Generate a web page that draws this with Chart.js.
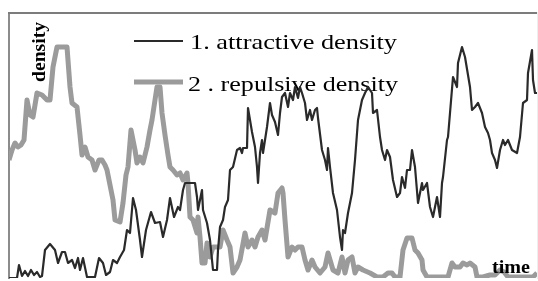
<!DOCTYPE html>
<html>
<head>
<meta charset="utf-8">
<script src="https://cdn.jsdelivr.net/npm/chart.js@4.4.1/dist/chart.umd.min.js"></script>
<style>
  html, body { margin: 0; padding: 0; background: #fff; }
</style>
</head>
<body>
<canvas id="chart" width="538" height="281"></canvas>
<script>
// ── Data (time steps, density level) ────────────────────────────────────
const attractiveTime = [0,4,8,10,13,16,19,22,25,28,31,33,36,41,46,49,53,56,59,63,66,69,71,74,78,82,86,90,94,97,101,104,108,111,115,118,121,124,127,131,133,137,142,146,151,154,158,161,165,169,171,174,176,181,186,188,189,193,194,198,201,204,208,209,211,214,216,219,221,224,228,231,233,234,238,239,243,246,248,249,251,253,254,258,261,263,266,269,271,273,276,279,281,284,286,289,291,293,296,298,301,303,306,308,309,313,316,318,319,321,324,328,331,333,334,336,339,343,346,349,353,356,359,363,364,368,371,373,376,378,381,384,388,391,393,396,398,401,403,406,409,413,414,418,421,424,426,428,431,433,434,438,439,444,448,449,453,456,461,463,466,469,473,476,479,481,483,486,488,491,494,496,499,503,508,511,514,518,519,523,524,526,528];
const attractiveDensity = [0,0,0,13,2,7,2,8,3,6,1,2,28,34,28,15,26,26,15,18,10,20,8,20,1,1,1,20,15,3,6,18,15,21,28,48,45,80,68,38,21,48,66,55,56,41,58,80,61,71,68,88,95,95,95,81,68,88,68,55,38,8,8,28,51,58,71,78,108,111,128,130,125,130,130,170,146,131,111,95,125,138,125,151,175,163,156,143,165,181,185,171,185,178,191,180,191,185,175,158,168,158,168,170,160,128,118,108,130,111,85,68,41,28,48,45,65,85,118,158,178,185,191,185,165,168,141,128,118,128,121,98,81,85,101,90,108,108,128,111,75,95,88,95,71,61,71,81,61,95,101,138,141,201,191,215,231,221,191,168,171,175,165,151,145,138,125,118,110,128,138,133,138,128,125,141,175,178,205,228,198,185,185];

const repulsiveTime = [0,3,6,9,12,15,18,21,24,28,33,38,41,44,48,53,58,61,63,68,71,73,76,79,83,86,90,93,96,98,101,104,106,111,114,117,119,122,124,126,128,131,134,138,141,143,146,148,151,153,156,159,161,164,168,171,174,178,179,181,184,188,189,191,193,196,198,201,204,208,211,214,218,221,224,228,231,236,239,243,246,249,253,256,261,266,269,273,274,276,279,283,286,289,293,296,299,303,306,311,316,319,324,329,333,336,339,343,346,349,354,361,368,374,379,383,386,391,394,398,403,406,409,413,414,418,431,439,443,446,451,454,458,461,466,468,474,481,486,491,495,499,506,511,516,521,524,528];
const repulsiveDensity = [118,128,135,131,133,138,178,163,161,185,183,178,178,211,231,231,231,191,175,171,143,123,131,121,118,108,118,118,113,108,93,78,58,56,75,103,111,148,138,128,115,121,115,131,148,158,178,191,191,165,143,123,111,108,103,105,98,105,95,61,58,45,61,41,15,15,35,21,31,31,31,48,38,31,5,11,18,45,31,38,31,41,48,38,68,65,85,90,85,58,21,31,28,31,31,18,8,18,11,5,11,25,8,5,21,5,18,21,5,11,8,5,1,1,5,5,1,1,28,40,40,28,25,18,8,1,1,1,15,11,11,15,13,15,11,1,1,3,3,8,6,1,1,1,1,1,1,5];

const seriesLabels = ['1. attractive density', '2 . repulsive density'];
const xTitle = 'time';
const yTitle = 'density';

const toPoints = (xs, ys) => xs.map((x, i) => ({ x: x, y: ys[i] }));

const SERIF = '"Liberation Serif", "Times New Roman", Times, serif';

// draw text squeezed/stretched to a given width (the original is a bit widened)
function fitText(ctx, text, x, y, width) {
  const w = ctx.measureText(text).width;
  ctx.save();
  ctx.translate(x, y);
  ctx.scale(width / w, 1);
  ctx.fillText(text, 0, 0);
  ctx.restore();
}

// ── Frame: grey top/left rule, faint right rule ─────────────────────────
const framePlugin = {
  id: 'frame',
  beforeDraw(chart) {
    const { ctx, chartArea: a } = chart;
    ctx.save();
    ctx.fillStyle = '#ffffff';
    ctx.fillRect(0, 0, chart.width, chart.height);
    ctx.fillStyle = '#eeeeee';
    ctx.fillRect(a.right, a.top, 1, a.bottom - a.top + 1);
    ctx.fillStyle = '#8c8c8c';
    ctx.fillRect(a.left - 1, a.top, 2, a.bottom - a.top + 1);
    ctx.fillStyle = '#7c7c7c';
    ctx.fillRect(a.left - 1, a.top, a.right - a.left + 1, 2);
    ctx.restore();
  }
};

// ── Legend sits under the lines (the data crosses its text) ────────────
const legendPlugin = {
  id: 'inlineLegend',
  beforeDatasetsDraw(chart) {
    const { ctx, chartArea: a } = chart;
    const rows = [
      { y: 41, x: 181, base: 49, w: 207 },
      { y: 82, x: 179, base: 91, w: 210 }
    ];
    ctx.save();
    ctx.fillStyle = '#000';
    ctx.font = '22px ' + SERIF;
    ctx.textBaseline = 'alphabetic';
    chart.data.datasets.forEach((ds, i) => {
      const r = rows[i];
      ctx.strokeStyle = ds.borderColor;
      ctx.lineWidth = ds.borderWidth;
      ctx.lineCap = 'butt';
      ctx.beginPath();
      ctx.moveTo(a.left + 125, r.y);
      ctx.lineTo(a.left + 174, r.y);
      ctx.stroke();
      fitText(ctx, ds.label, a.left + r.x, r.base, r.w);
    });
    ctx.restore();
  }
};

// ── Axis titles ─────────────────────────────────────────────────────────
const titlesPlugin = {
  id: 'axisTitles',
  afterDraw(chart) {
    const { ctx, chartArea: a } = chart;
    ctx.save();
    ctx.fillStyle = '#000';
    ctx.font = 'bold 19px ' + SERIF;

    ctx.save();
    ctx.translate(a.left + 31, a.top + 40);
    ctx.rotate(-Math.PI / 2);
    ctx.textBaseline = 'middle';
    fitText(ctx, yTitle, -30, 0, 60);
    ctx.restore();

    ctx.textBaseline = 'alphabetic';
    fitText(ctx, xTitle, a.right - 45, a.bottom - 5, 38);
    ctx.restore();
  }
};

new Chart(document.getElementById('chart'), {
  type: 'line',
  data: {
    datasets: [
      {
        label: seriesLabels[0],
        data: toPoints(attractiveTime, attractiveDensity),
        borderColor: '#2a2a2a',
        borderWidth: 2.2,
        borderJoinStyle: 'round',
        pointRadius: 0,
        tension: 0,
        fill: false
      },
      {
        label: seriesLabels[1],
        data: toPoints(repulsiveTime, repulsiveDensity),
        borderColor: '#9b9b9b',
        borderWidth: 5,
        borderJoinStyle: 'round',
        pointRadius: 0,
        tension: 0,
        fill: false
      }
    ]
  },
  options: {
    responsive: false,
    devicePixelRatio: 1,
    animation: false,
    events: [],
    layout: { padding: { left: 9, right: 1, top: 12, bottom: 3 } },
    plugins: {
      legend: { display: false },
      tooltip: { enabled: false }
    },
    scales: {
      x: { type: 'linear', min: 0, max: 528, display: false },
      y: { min: 0, max: 266, display: false }
    }
  },
  plugins: [framePlugin, legendPlugin, titlesPlugin]
});
</script>
</body>
</html>
